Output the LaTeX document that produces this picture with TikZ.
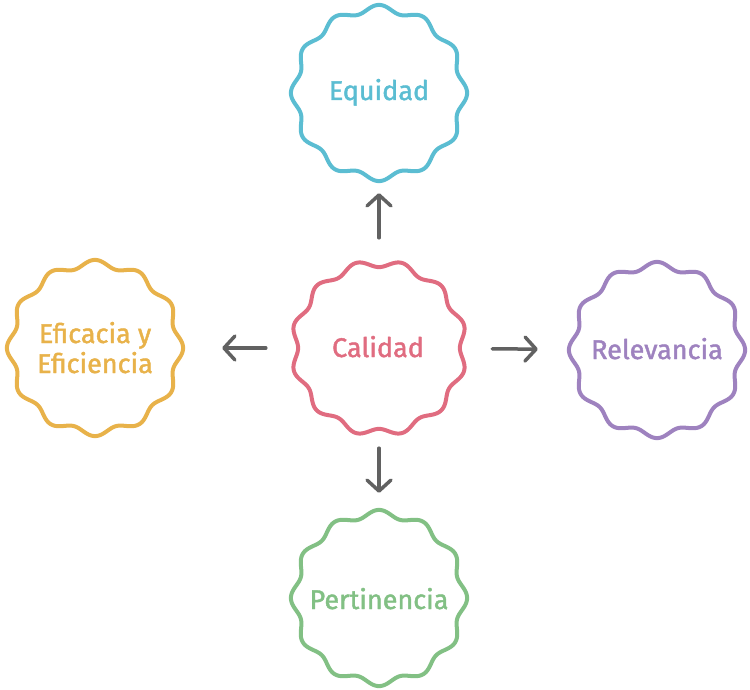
\documentclass[tikz,border=0pt]{standalone}
\usepackage{fontspec}
\setmainfont{Fira Sans}
\newfontfamily\lblfont[FakeBold=1.6]{Fira Sans}
\usetikzlibrary{arrows.meta}
\definecolor{cblue}{HTML}{5BBDD2}
\definecolor{cred}{HTML}{E06C80}
\definecolor{cyellow}{HTML}{E8B24A}
\definecolor{cpurple}{HTML}{9E82BF}
\definecolor{cgreen}{HTML}{82C084}
\definecolor{cgray}{HTML}{616161}
\begin{document}
\begin{tikzpicture}[x=1pt,y=-1pt,
  hub/.style={circle, minimum size=172pt, inner sep=0pt, draw=none},
  lbl/.style={anchor=base, font=\lblfont\fontsize{27}{30}\selectfont},
  arr/.style={draw=cgray, line width=3.5pt, line cap=round,
    -{Straight Barb[length=11pt,width=24pt,round]}},
  wavy/.pic={\draw[line width=4pt, line join=round, pic actions]
    plot[domain=0:360, samples=721, variable=\t]
    ({(84.5+3.6*cos(12*\t))*cos(\t)}, {(84.5+3.6*cos(12*\t))*sin(\t)}) -- cycle;}]
\useasboundingbox (0,0) rectangle (750,690);
% hubs
\node[hub] (equ) at (379,93) {};
\node[hub] (cal) at (379,348) {};
\node[hub] (per) at (379,598) {};
\node[hub] (efi) at (95,348) {};
\node[hub] (rel) at (657,350) {};
% outlines
\pic[draw=cblue] at (equ.center) {wavy};
\pic[draw=cred, rotate=15] at (cal.center) {wavy};
\pic[draw=cgreen] at (per.center) {wavy};
\pic[draw=cyellow] at (efi.center) {wavy};
\pic[draw=cpurple] at (rel.center) {wavy};
% labels
\node[lbl, text=cblue] (equt) at (379,100) {Equidad};
\node[lbl, text=cred] (calt) at (378,357) {Calidad};
\node[lbl, text=cgreen] (pert) at (379,609) {Pertinencia};
\node[lbl, text=cyellow] (efit1) at (95,343) {Eficacia y};
\node[lbl, text=cyellow] (efit2) at (95,373) {Eficiencia};
\node[lbl, text=cpurple] (relt) at (657,359) {Relevancia};
% arrows
\draw[arr, shorten <=24pt, shorten >=14pt] (cal) -- (equ);
\draw[arr, shorten <=14pt, shorten >=19pt] (cal) -- (per);
\draw[arr, shorten <=27pt, shorten >=41pt] (cal) -- (efi);
\draw[arr, shorten <=27pt, shorten >=33pt] (cal) -- (rel);
\end{tikzpicture}
\end{document}
